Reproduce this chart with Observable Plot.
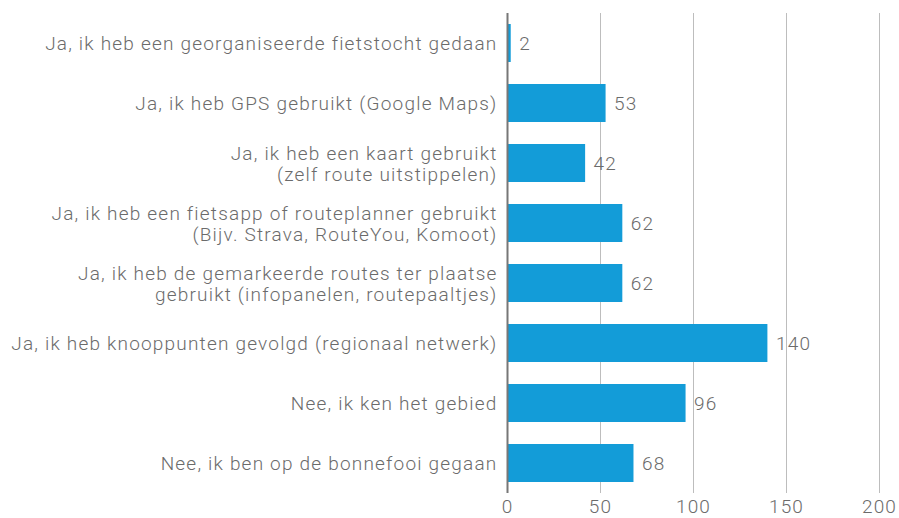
<!DOCTYPE html>
<html>
<head>
<meta charset="utf-8">
<script src="https://cdn.jsdelivr.net/npm/d3@7"></script>
<script src="https://cdn.jsdelivr.net/npm/@observablehq/plot@0.6"></script>
<style>
  html, body { margin: 0; padding: 0; background: #fff; }
  svg text { letter-spacing: 1.2px; font-weight: 300; }
</style>
</head>
<body>
<div id="chart"></div>
<script>
const categories = [
  "Ja, ik heb een georganiseerde fietstocht gedaan",
  "Ja, ik heb GPS gebruikt (Google Maps)",
  "Ja, ik heb een kaart gebruikt\n(zelf route uitstippelen)",
  "Ja, ik heb een fietsapp of routeplanner gebruikt\n(Bijv. Strava, RouteYou, Komoot)",
  "Ja, ik heb de gemarkeerde routes ter plaatse\ngebruikt (infopanelen, routepaaltjes)",
  "Ja, ik heb knooppunten gevolgd (regionaal netwerk)",
  "Nee, ik ken het gebied",
  "Nee, ik ben op de bonnefooi gegaan"
];
const values = [2, 53, 42, 62, 62, 140, 96, 68];
const xTicks = [0, 50, 100, 150, 200];

const data = categories.map((label, i) => ({label, value: values[i]}));

const chart = Plot.plot({
  width: 899,
  height: 518,
  marginLeft: 507,
  marginRight: 20,
  marginTop: 13,
  marginBottom: 25,
  style: {fontFamily: "Roboto", fontSize: "19px", color: "#6b6b6b", background: "#fff"},
  x: {domain: [0, 200], ticks: xTicks},
  y: {domain: categories, paddingInner: 0.37, paddingOuter: 0.185},
  marks: [
    Plot.gridX(xTicks, {stroke: "#bdbdbd", strokeOpacity: 1, strokeWidth: 1}),
    Plot.barX(data, {x: "value", y: "label", fill: "#139cd8"}),
    Plot.ruleX([0], {stroke: "#777", strokeWidth: 2}),
    Plot.text(data, {x: "value", y: "label", text: d => String(d.value), dx: 8, textAnchor: "start", fill: "#6b6b6b", fontSize: 19}),
    Plot.axisX({ticks: xTicks, tickSize: 0, tickPadding: 6, label: null, fontSize: 19}),
    Plot.axisY({tickSize: 0, tickPadding: 10, label: null, lineHeight: 1.12, fontSize: 19})
  ]
});
document.getElementById("chart").appendChild(chart);
</script>
</body>
</html>
